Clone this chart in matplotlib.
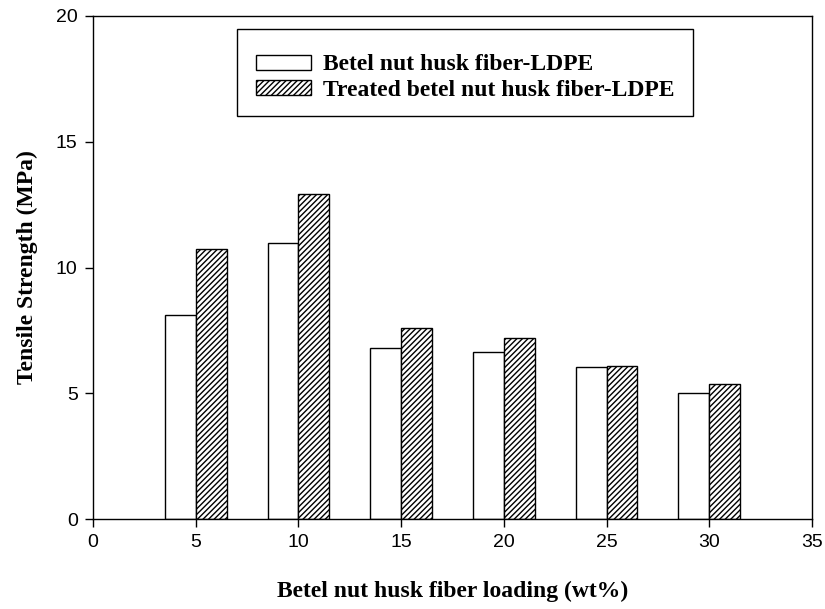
import matplotlib
matplotlib.use("Agg")
import matplotlib.pyplot as plt
from matplotlib.patches import Rectangle
import numpy as np

loading = [5, 10, 15, 20, 25, 30]
untreated = [8.1, 10.97, 6.8, 6.64, 6.03, 5.01]
treated = [10.72, 12.92, 7.6, 7.2, 6.1, 5.36]
xticks = [0, 5, 10, 15, 20, 25, 30, 35]
yticks = [0, 5, 10, 15, 20]

plt.rcParams['hatch.linewidth'] = 1.0
fig = plt.figure(figsize=(8.25, 6.09), dpi=100)
ax = fig.add_axes([93/825, 1-519/609, 719/825, 503/609])

w = 1.5
x = np.array(loading, dtype=float)
ax.bar(x - w/2, untreated, width=w, facecolor='white', edgecolor='black', linewidth=1.0,
       label='Betel nut husk fiber-LDPE')
ax.bar(x + w/2, treated, width=w, facecolor='white', edgecolor='black', linewidth=1.0,
       hatch='//////', label='Treated betel nut husk fiber-LDPE')

ax.set_xlim(0, 35)
ax.set_ylim(0, 20)
ax.set_xticks(xticks)
ax.set_yticks(yticks)
ax.tick_params(direction='out', length=6, width=1, labelsize=14, pad=5)
for lab in ax.get_xticklabels() + ax.get_yticklabels():
    lab.set_family('Liberation Sans')
for s in ax.spines.values():
    s.set_linewidth(1.0)
ax.xaxis.set_ticks_position('bottom')
ax.yaxis.set_ticks_position('left')

ax.set_xlabel('Betel nut husk fiber loading (wt%)', family='Liberation Serif',
              fontweight='bold', fontsize=17, labelpad=21)
ax.set_ylabel('Tensile Strength (MPa)', family='Liberation Serif',
              fontweight='bold', fontsize=17, labelpad=13)

# legend frame
ax.add_patch(Rectangle((0.2003, 0.8012), 0.6342, 0.173, transform=ax.transAxes,
                       facecolor='white', edgecolor='black', linewidth=1.0, zorder=4))
leg = ax.legend(loc='center', bbox_to_anchor=(0.5174, 0.8777),
                prop={'family': 'Liberation Serif', 'weight': 'bold', 'size': 17},
                frameon=False, handlelength=2.35,
                handleheight=0.6, borderaxespad=0, borderpad=0.2, labelspacing=0.18,
                handletextpad=0.5)
leg.set_zorder(5)

fig.savefig('out.png', dpi=100)
